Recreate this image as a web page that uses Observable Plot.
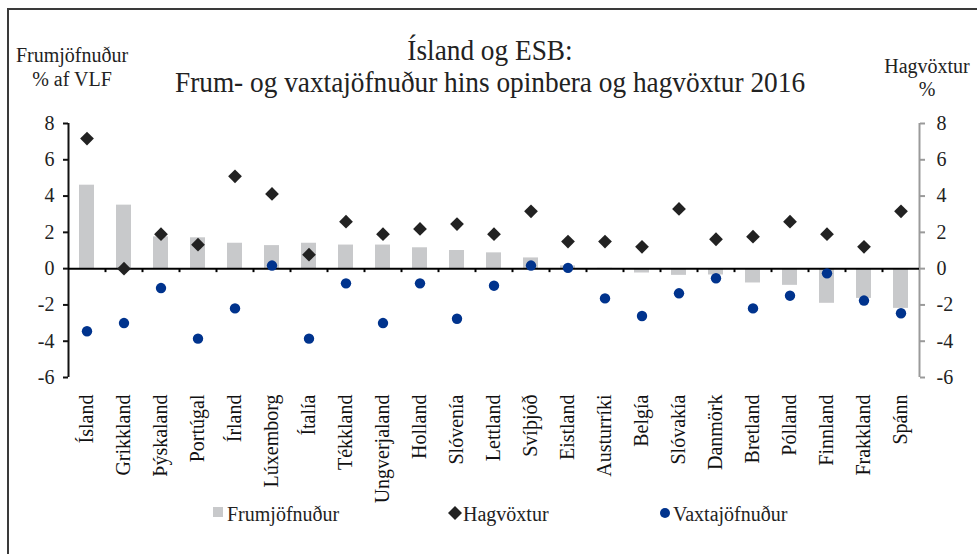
<!DOCTYPE html>
<html><head><meta charset="utf-8">
<script src="https://cdn.jsdelivr.net/npm/d3@7"></script>
<script src="https://cdn.jsdelivr.net/npm/@observablehq/plot@0.6"></script>
<style>
html,body{margin:0;padding:0;background:#fff;overflow:hidden;}
#wrap{position:relative;width:977px;height:554px;overflow:hidden;font-family:"Liberation Serif","Times New Roman",serif;color:#222;}
#chart{position:absolute;left:0;top:0;}
#frame{position:absolute;left:7px;top:8px;width:1000px;height:600px;border:2px solid #3a3a3a;box-sizing:border-box;pointer-events:none;}
.t{position:absolute;white-space:nowrap;text-align:center;}
#title{left:0;top:34px;width:980px;font-size:30px;line-height:32px;transform:scaleX(0.91);transform-origin:490px 0;}
#ltitle{left:2px;top:43px;width:140px;font-size:20px;line-height:24px;}
#rtitle{left:857px;top:55px;width:140px;font-size:20px;line-height:23px;}
.leg{position:absolute;top:502px;font-size:20px;line-height:24px;white-space:nowrap;}
.sw{position:absolute;}
</style></head><body>
<div id="wrap">
  <div id="chart"></div>
  <div class="t" id="title">Ísland og ESB:<br>Frum- og vaxtajöfnuður hins opinbera og hagvöxtur 2016</div>
  <div class="t" id="ltitle">Frumjöfnuður<br>% af VLF</div>
  <div class="t" id="rtitle">Hagvöxtur<br>%</div>
  <svg class="sw" style="left:213px;top:507px" width="10" height="10"><rect width="10" height="10" fill="#c8c9cb"/></svg>
  <div class="leg" style="left:227px">Frumjöfnuður</div>
  <svg class="sw" style="left:448px;top:506px" width="14" height="14"><path d="M7,0L14,7L7,14L0,7Z" fill="#222"/></svg>
  <div class="leg" style="left:463px">Hagvöxtur</div>
  <svg class="sw" style="left:659px;top:507px" width="12" height="12"><circle cx="6" cy="6" r="5" fill="#00338d"/></svg>
  <div class="leg" style="left:673px">Vaxtajöfnuður</div>
  <div id="frame"></div>
</div>
<script>
const categories = ["Ísland","Grikkland","Þýskaland","Portúgal","Írland","Lúxemborg","Ítalía","Tékkland","Ungverjaland","Holland","Slóvenía","Lettland","Svíþjóð","Eistland","Austurríki","Belgía","Slóvakía","Danmörk","Bretland","Pólland","Finnland","Frakkland","Spánn"];
const frumjofnudur = [4.6, 3.5, 1.75, 1.7, 1.4, 1.27, 1.4, 1.3, 1.3, 1.15, 1.0, 0.87, 0.59, 0.15, 0.02, -0.24, -0.37, -0.35, -0.79, -0.92, -1.91, -1.64, -2.19];
const hagvoxtur = [7.17, 0.0, 1.9, 1.32, 5.09, 4.12, 0.77, 2.59, 1.9, 2.19, 2.46, 1.9, 3.16, 1.49, 1.49, 1.2, 3.29, 1.62, 1.76, 2.59, 1.9, 1.2, 3.16];
const vaxtajofnudur = [-3.45, -3.0, -1.07, -3.86, -2.19, 0.17, -3.86, -0.81, -3.0, -0.81, -2.76, -0.94, 0.17, 0.04, -1.64, -2.61, -1.36, -0.53, -2.19, -1.49, -0.26, -1.76, -2.46];
const yTicks = [-6, -4, -2, 0, 2, 4, 6, 8];

const W = 977, H = 554, ML = 68, MR = 58, MT = 123, MB = 177;
const bw = (W - ML - MR) / categories.length;
const rows = categories.map((c, i) => ({land: c, frum: frumjofnudur[i], hag: hagvoxtur[i], vaxt: vaxtajofnudur[i]}));
const fmt = d => String(d);

const plot = Plot.plot({
  width: W, height: H,
  marginLeft: ML, marginRight: MR, marginTop: MT, marginBottom: MB,
  style: {fontFamily: '"Liberation Serif","Times New Roman",serif', fontSize: "20px", color: "#222", background: "transparent"},
  x: {type: "band", domain: categories, padding: 0, label: null},
  y: {domain: [-6, 8], label: null},
  marks: [
    Plot.barY(rows, {x: "land", y: "frum", fill: "#c8c9cb", insetLeft: 11, insetRight: 11}),
    Plot.ruleX([categories[0]], {y1: -6, y2: 8, dx: -bw / 2, stroke: "#111", strokeWidth: 2}),
    Plot.ruleX([categories[categories.length - 1]], {y1: -6, y2: 8, dx: bw / 2, stroke: "#9a9a9a", strokeWidth: 2}),
    Plot.axisY({anchor: "left", ticks: yTicks, tickSize: 5, tickPadding: 9, tickFormat: fmt, stroke: "#111", strokeWidth: 2, fill: "#222", label: null}),
    Plot.axisY({anchor: "right", ticks: yTicks, tickSize: 5, tickPadding: 12, tickFormat: fmt, stroke: "#9a9a9a", strokeWidth: 2, fill: "#222", label: null}),
    Plot.axisX({anchor: "bottom", tickSize: 0, tickPadding: 17, tickRotate: -90, fill: "#111", label: null}),
    Plot.ruleY([0], {stroke: "#000", strokeWidth: 2}),
    Plot.ruleX(categories.slice(0, -1), {y1: 0, y2: -0.22, dx: bw / 2, stroke: "#000", strokeWidth: 2}),
    Plot.dot(rows, {x: "land", y: "hag", symbol: "diamond2", r: 6.2, fill: "#222", stroke: "none"}),
    Plot.dot(rows, {x: "land", y: "vaxt", r: 5.2, fill: "#00338d", stroke: "none"})
  ]
});
document.getElementById("chart").appendChild(plot);
</script>
</body></html>
